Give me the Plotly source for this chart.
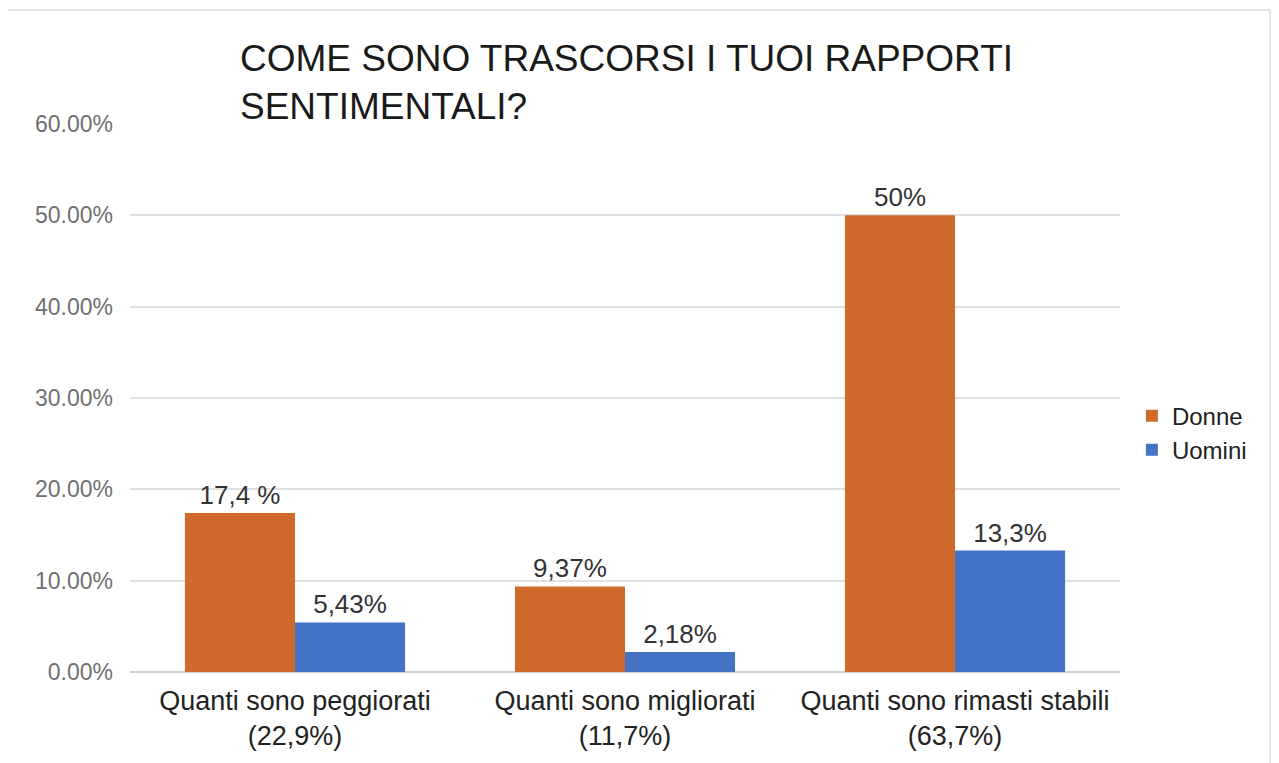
import plotly.graph_objects as go

# survey answers, share of respondents
categories = [
    "Quanti sono peggiorati<br>(22,9%)",
    "Quanti sono migliorati<br>(11,7%)",
    "Quanti sono rimasti stabili<br>(63,7%)",
]
donne = [0.174, 0.0937, 0.50]
uomini = [0.0543, 0.0218, 0.133]
donne_labels = ["17,4 %", "9,37%", "50%"]
uomini_labels = ["5,43%", "2,18%", "13,3%"]

ORANGE = "#D06A2C"
BLUE = "#4472C4"
FONT = "Arial, Liberation Sans, sans-serif"

# page body keeps its default 8px margin, so the figure is sized to fit the window
W, H = 1271, 755
M_L, M_R, M_T, M_B = 122, 159, 116, 91

fig = go.Figure()
for name, vals, labels, color in [
    ("Donne", donne, donne_labels, ORANGE),
    ("Uomini", uomini, uomini_labels, BLUE),
]:
    fig.add_trace(
        go.Bar(
            x=categories, y=vals, name=name,
            marker=dict(color=color, line=dict(width=0)),
            text=labels, textposition="outside", cliponaxis=False,
            textfont=dict(size=26, color="#333333", family=FONT),
        )
    )

plot_w = W - M_L - M_R
plot_h = H - M_T - M_B

fig.update_layout(
    width=W, height=H,
    margin=dict(l=M_L, r=M_R, t=M_T, b=M_B),
    paper_bgcolor="white", plot_bgcolor="white",
    barmode="group", bargap=0.333, bargroupgap=0,
    font=dict(family=FONT, color="#222222"),
    title=dict(
        text="COME SONO TRASCORSI I TUOI RAPPORTI<br>SENTIMENTALI?",
        font=dict(size=37, color="#1a1a1a", family=FONT),
        x=232 / W, xref="container", xanchor="left",
        y=1 - 63 / H, yref="container", yanchor="top",
    ),
    legend=dict(
        x=1.012, xanchor="left", y=0.436, yanchor="middle",
        font=dict(size=24, color="#222222"),
        itemwidth=30, tracegroupgap=0,
    ),
    showlegend=True,
)
fig.update_yaxes(
    range=[0, 0.6], dtick=0.1, tickformat=".2%",
    gridcolor="#e0e0e0", gridwidth=2,
    zeroline=True, zerolinecolor="#d0d0d0", zerolinewidth=2,
    showline=False, ticklabelstandoff=16,
    tickfont=dict(size=23, color="#707070"),
)
fig.update_xaxes(
    showline=False, ticks="", ticklabelstandoff=10,
    tickfont=dict(size=27, color="#222222"),
)

# faint frame round the whole chart
fig.add_shape(
    type="rect", xref="paper", yref="paper",
    x0=(-1 - M_L) / plot_w, x1=(1262 - M_L) / plot_w,
    y0=-(M_B + 20) / plot_h, y1=(plot_h + M_T - 2) / plot_h,
    line=dict(color="#e6e6e6", width=2), fillcolor="rgba(0,0,0,0)", layer="below",
)

fig.write_html("out.html")
